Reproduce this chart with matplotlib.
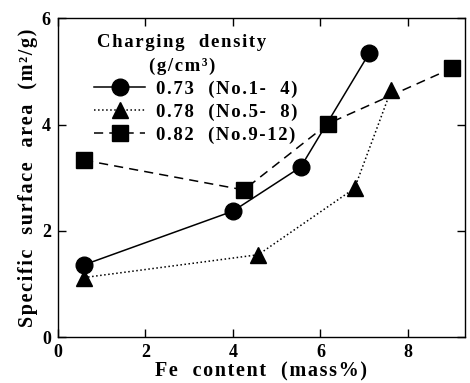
import matplotlib
matplotlib.use("Agg")
import matplotlib.pyplot as plt

x_073 = [0.6, 4.0, 5.55, 7.12]
y_073 = [1.36, 2.37, 3.2, 5.35]
x_078 = [0.6, 4.58, 6.78, 7.62]
y_078 = [1.12, 1.55, 2.8, 4.66]
x_082 = [0.6, 4.25, 6.18, 9.0]
y_082 = [3.33, 2.77, 4.02, 5.06]
labels = ["0.73  (No.1-  4)", "0.78  (No.5-  8)", "0.82  (No.9-12)"]
xticks = [0, 2, 4, 6, 8]
yticks = [0, 2, 4, 6]

plt.rcParams['font.family'] = ['Liberation Serif', 'DejaVu Serif']
plt.rcParams['font.weight'] = 'bold'

HS = '\u200a'


def spaced(s, sp=HS):
    return sp.join(list(s))


fig = plt.figure(figsize=(4.7, 3.83), dpi=100)
ax = fig.add_axes([0.123, 0.120, 0.866, 0.832])

ax.plot(x_073, y_073, '-', color='black', lw=1.1, marker='o', ms=12, label=spaced(labels[0]))
ax.plot(x_078, y_078, ':', color='black', lw=1.1, marker='^', ms=12, label=spaced(labels[1]))
ax.plot(x_082, y_082, '--', color='black', lw=1.1, marker='s', ms=11, dashes=(6, 4), label=spaced(labels[2]))

ax.set_xlim(0, 9.3)
ax.set_ylim(0, 6)
ax.set_xticks(xticks)
ax.set_yticks(yticks)
ax.tick_params(direction='in', top=True, right=True, length=6, width=1, labelsize=13, pad=5)
for lab in ax.get_xticklabels() + ax.get_yticklabels():
    lab.set_fontweight('bold')
for s in ax.spines.values():
    s.set_linewidth(1.0)

ax.set_xlabel(spaced("Fe  content  (mass%)"), fontsize=14.5, fontweight='bold', labelpad=0)
ax.set_ylabel(spaced("Specific  surface  area  (m²/g)"), fontsize=14.5, fontweight='bold', labelpad=3)

ax.text(0.305, 0.95, spaced("Charging  density") + "\n" + spaced("(g/cm³)"),
        transform=ax.transAxes, ha='center', va='top', multialignment='center',
        fontsize=13.5, fontweight='bold', linespacing=1.5)

leg = ax.legend(loc='upper left', bbox_to_anchor=(0.09, 0.805), frameon=False,
                fontsize=13.5, handlelength=2.7, handletextpad=0.6,
                labelspacing=0.3, borderaxespad=0, borderpad=0)
for t in leg.get_texts():
    t.set_fontweight('bold')

fig.savefig("out.png", dpi=100)
